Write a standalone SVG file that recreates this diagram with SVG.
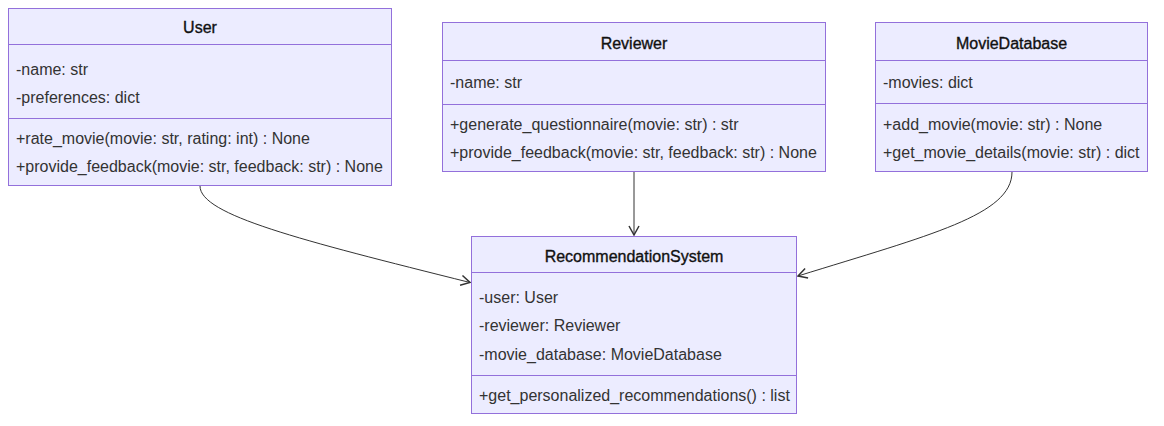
<svg xmlns="http://www.w3.org/2000/svg" width="1164" height="426" viewBox="0 0 1164 426">
<style>
.box{fill:#ECECFF;stroke:#9370DB;stroke-width:1}
.div{stroke:#9370DB;stroke-width:1}
text{font-family:"Liberation Sans",Arial,sans-serif;font-size:16px;fill:#333333;dominant-baseline:central}
.title{text-anchor:middle;fill:#111;stroke:#111;stroke-width:0.35}
.edge{fill:none;stroke:#333333;stroke-width:1}
</style>
<defs>
<marker id="arr" markerUnits="userSpaceOnUse" markerWidth="14" markerHeight="14" refX="10" refY="6" orient="auto">
<path d="M1,1 L10,6 L1,11" fill="none" stroke="#333333" stroke-width="1.5"/>
</marker>
</defs>
<rect width="1164" height="426" fill="#ffffff"/>
<g id="connectors">
<path class="edge" d="M200,186 C200,215 300,240 470,282.5" marker-end="url(#arr)"/>
<path class="edge" d="M634,172 L634,235" marker-end="url(#arr)"/>
<path class="edge" d="M1012,172 C1012,215 930,235 798,276" marker-end="url(#arr)"/>
</g>
<g id="User">
<rect class="box" x="8.5" y="8.5" width="383" height="177"/>
<line class="div" x1="8.5" y1="44.5" x2="391.5" y2="44.5"/>
<line class="div" x1="8.5" y1="118.5" x2="391.5" y2="118.5"/>
<text class="title" x="200" y="27">User</text>
<text x="16" y="69">-name: str</text>
<text x="16" y="97">-preferences: dict</text>
<text x="16" y="138">+rate_movie(movie: str, rating: int) : None</text>
<text x="16" y="166">+provide_feedback(movie: str, feedback: str) : None</text>
</g>
<g id="Reviewer">
<rect class="box" x="442.5" y="22.5" width="383" height="149"/>
<line class="div" x1="442.5" y1="60.5" x2="825.5" y2="60.5"/>
<line class="div" x1="442.5" y1="104.5" x2="825.5" y2="104.5"/>
<text class="title" x="634" y="43">Reviewer</text>
<text x="450" y="82">-name: str</text>
<text x="450" y="124">+generate_questionnaire(movie: str) : str</text>
<text x="450" y="152">+provide_feedback(movie: str, feedback: str) : None</text>
</g>
<g id="MovieDatabase">
<rect class="box" x="875.5" y="22.5" width="272" height="149"/>
<line class="div" x1="875.5" y1="60.5" x2="1147.5" y2="60.5"/>
<line class="div" x1="875.5" y1="103.5" x2="1147.5" y2="103.5"/>
<text class="title" x="1011.5" y="43">MovieDatabase</text>
<text x="883" y="82">-movies: dict</text>
<text x="883" y="124">+add_movie(movie: str) : None</text>
<text x="883" y="152">+get_movie_details(movie: str) : dict</text>
</g>
<g id="RecommendationSystem">
<rect class="box" x="471.5" y="236.5" width="325" height="177"/>
<line class="div" x1="471.5" y1="272.5" x2="796.5" y2="272.5"/>
<line class="div" x1="471.5" y1="375.5" x2="796.5" y2="375.5"/>
<text class="title" x="634" y="256">RecommendationSystem</text>
<text x="479" y="297">-user: User</text>
<text x="479" y="325">-reviewer: Reviewer</text>
<text x="479" y="354">-movie_database: MovieDatabase</text>
<text x="479" y="395">+get_personalized_recommendations() : list</text>
</g>
</svg>
